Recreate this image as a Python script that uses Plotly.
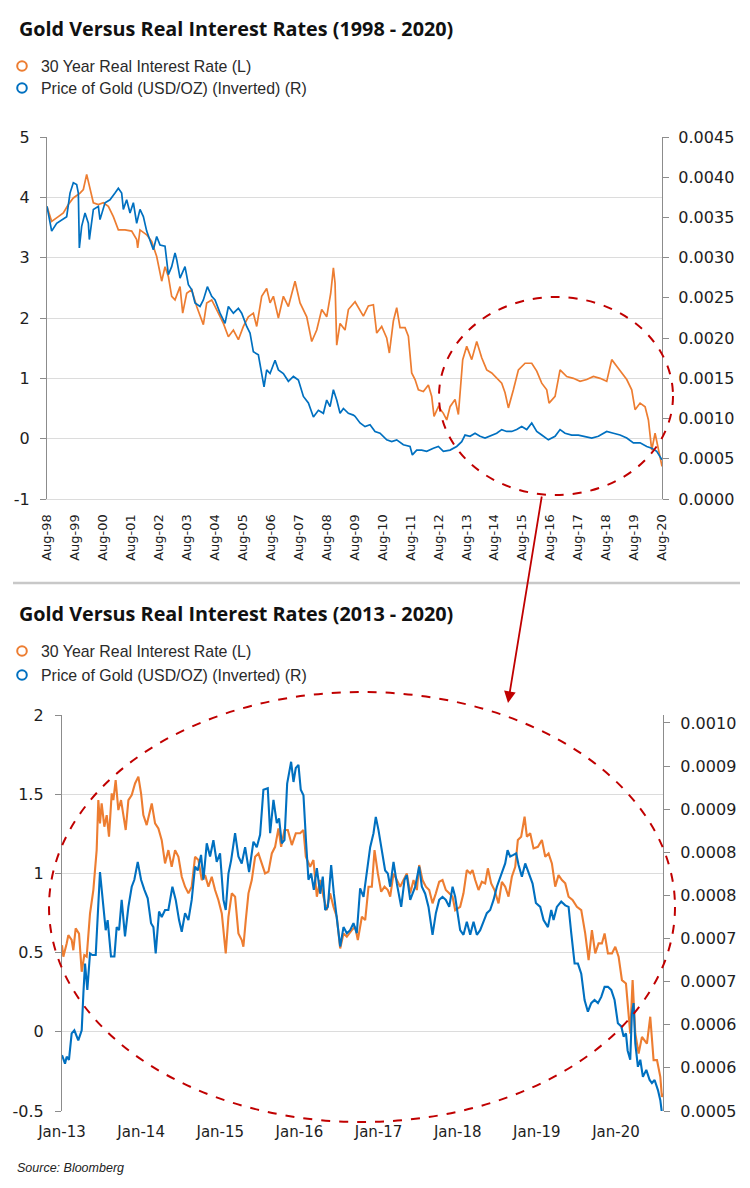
import plotly.graph_objects as go

# ---------------- data: top chart (x = decimal year) ----------------
top_rate_x = [1998.583, 1998.750, 1998.988, 1999.167, 1999.346, 1999.525, 1999.764, 1999.883, 2000.002, 2000.121,
              2000.241, 2000.420, 2000.599, 2000.777, 2000.956, 2001.135, 2001.374, 2001.612, 2001.791, 2001.827,
              2001.910, 2002.149, 2002.328, 2002.507, 2002.686, 2002.805, 2002.924, 2003.043, 2003.163, 2003.342,
              2003.437, 2003.580, 2003.759, 2003.938, 2004.176, 2004.296, 2004.475, 2004.713, 2004.892, 2005.071,
              2005.250, 2005.429, 2005.608, 2005.786, 2005.965, 2006.085, 2006.263, 2006.442, 2006.562, 2006.681,
              2006.860, 2007.039, 2007.218, 2007.456, 2007.635, 2007.874, 2008.053, 2008.232, 2008.410, 2008.589,
              2008.732, 2008.828, 2008.887, 2008.947, 2009.066, 2009.245, 2009.364, 2009.603,
              2009.900, 2010.079, 2010.258, 2010.377, 2010.556, 2010.735, 2010.830, 2010.973, 2011.093, 2011.212,
              2011.391, 2011.510, 2011.629, 2011.749, 2011.868, 2012.047, 2012.226, 2012.345, 2012.428, 2012.583,
              2012.762, 2012.882, 2013.001, 2013.180, 2013.299, 2013.454, 2013.597, 2013.776, 2013.955, 2014.134,
              2014.313, 2014.492, 2014.670, 2014.849, 2014.969, 2015.088, 2015.267, 2015.446, 2015.684, 2015.923,
              2016.102, 2016.281, 2016.459, 2016.543, 2016.758, 2016.936, 2017.175, 2017.413, 2017.652, 2017.890,
              2018.129, 2018.368, 2018.606, 2018.785, 2018.964, 2019.143, 2019.322, 2019.500, 2019.620, 2019.799,
              2019.978, 2020.097, 2020.216, 2020.335, 2020.455, 2020.583]
top_rate_y = [3.85, 3.60, 3.68, 3.74, 3.88, 3.99, 4.07, 4.13, 4.38, 4.13,
              3.91, 3.88, 3.91, 3.85, 3.68, 3.46, 3.46, 3.44, 3.30, 3.16,
              3.46, 3.38, 3.27, 3.02, 2.61, 2.85, 2.69, 2.36, 2.30, 2.52,
              2.08, 2.41, 2.47, 2.19, 1.89, 2.25, 2.30, 2.08, 1.91, 1.69,
              1.80, 1.64, 1.86, 2.02, 2.08, 1.86, 2.36, 2.49, 2.25, 2.36,
              2.00, 2.36, 2.19, 2.61, 2.25, 2.02, 1.61, 1.80, 2.14, 2.02,
              2.41, 2.83, 2.58, 1.55, 1.91, 1.80, 2.14, 2.27,
              2.03, 2.20, 2.22, 1.75, 1.86, 1.67, 1.42, 1.95, 2.17, 1.84,
              1.84, 1.70, 1.09, 0.98, 0.81, 0.78, 0.89, 0.70, 0.37, 0.53,
              0.42, 0.31, 0.53, 0.65, 0.40, 1.31, 1.53, 1.31, 1.61, 1.34,
              1.14, 1.09, 1.00, 0.92, 0.76, 0.51, 0.81, 1.14, 1.25, 1.25,
              1.12, 0.92, 0.81, 0.59, 0.70, 1.14, 1.03, 1.00, 0.95, 0.98,
              1.03, 1.00, 0.95, 1.31, 1.20, 1.09, 0.98, 0.81, 0.48, 0.59,
              0.53, 0.31, -0.19, 0.09, -0.19, -0.46]

top_gold_x = [1998.583, 1998.631, 1998.750, 1998.929, 1999.108, 1999.287, 1999.406, 1999.525, 1999.644, 1999.704,
              1999.740, 1999.823, 1999.943, 2000.062, 2000.098, 2000.241, 2000.420, 2000.479, 2000.658, 2000.837,
              2001.016, 2001.135, 2001.254, 2001.314, 2001.433, 2001.553, 2001.672, 2001.791, 2001.910, 2002.030,
              2002.149, 2002.268, 2002.387, 2002.507, 2002.626, 2002.805, 2002.924, 2003.043, 2003.163, 2003.222,
              2003.342, 2003.520, 2003.640, 2003.759, 2003.878, 2004.057, 2004.176, 2004.320, 2004.475, 2004.594,
              2004.773, 2004.952, 2005.071, 2005.250, 2005.429, 2005.548, 2005.727, 2005.846, 2005.965, 2006.144,
              2006.263, 2006.347, 2006.442, 2006.562, 2006.741, 2006.860, 2007.039, 2007.218, 2007.397, 2007.576,
              2007.755, 2007.934, 2008.113, 2008.291, 2008.470, 2008.589, 2008.709, 2008.828, 2008.947, 2009.066,
              2009.186, 2009.364, 2009.543,
              2009.602, 2009.781, 2009.960, 2010.139, 2010.317, 2010.496, 2010.735, 2010.914, 2011.093, 2011.331,
              2011.570, 2011.653, 2011.808, 2011.987, 2012.166, 2012.405, 2012.583, 2012.762, 2013.001, 2013.239,
              2013.418, 2013.537, 2013.716, 2013.895, 2014.074, 2014.253, 2014.492, 2014.670, 2014.849, 2015.028,
              2015.207, 2015.386, 2015.565, 2015.744, 2015.923, 2016.102, 2016.281, 2016.519, 2016.758, 2016.936,
              2017.115, 2017.354, 2017.592, 2017.831, 2018.069, 2018.308, 2018.606, 2018.845, 2019.083, 2019.322,
              2019.560, 2019.799, 2020.037, 2020.216, 2020.395, 2020.583]
# 1 / gold price (right axis units)
top_gold_inv = [0.003638, 0.003533, 0.003330, 0.003428, 0.003473, 0.003510, 0.003803, 0.003930, 0.003908, 0.003803,
                0.003120, 0.003390, 0.003555, 0.003428, 0.003225, 0.003600, 0.003638, 0.003473, 0.003683, 0.003720,
                0.003803, 0.003863, 0.003803, 0.003600, 0.003720, 0.003555, 0.003683, 0.003428, 0.003600, 0.003510,
                0.003330, 0.003225, 0.003098, 0.003263, 0.003158, 0.003143, 0.002790, 0.002888, 0.003060, 0.002978,
                0.002745, 0.002888, 0.002663, 0.002603, 0.002438, 0.002393, 0.002475, 0.002640, 0.002520, 0.002475,
                0.002310, 0.002183, 0.002393, 0.002310, 0.002370, 0.002310, 0.002145, 0.002063, 0.001830, 0.001793,
                0.001560, 0.001395, 0.001605, 0.001560, 0.001725, 0.001605, 0.001560, 0.001463, 0.001523, 0.001478,
                0.001275, 0.001193, 0.001020, 0.001103, 0.001065, 0.001230, 0.001148, 0.001358, 0.001230, 0.001065,
                0.001125, 0.001065, 0.001043,
                0.001028, 0.000945, 0.000900, 0.000923, 0.000840, 0.000818, 0.000735, 0.000713, 0.000735, 0.000675,
                0.000653, 0.000548, 0.000608, 0.000608, 0.000593, 0.000630, 0.000653, 0.000593, 0.000608, 0.000653,
                0.000713, 0.000795, 0.000780, 0.000818, 0.000780, 0.000758, 0.000795, 0.000818, 0.000863, 0.000840,
                0.000840, 0.000863, 0.000900, 0.000863, 0.000945, 0.000840, 0.000795, 0.000735, 0.000780, 0.000863,
                0.000818, 0.000795, 0.000795, 0.000780, 0.000758, 0.000780, 0.000840, 0.000818, 0.000795, 0.000758,
                0.000698, 0.000698, 0.000653, 0.000630, 0.000593, 0.000488]

top_tick_labels = ["Aug-98", "Aug-99", "Aug-00", "Aug-01", "Aug-02", "Aug-03", "Aug-04", "Aug-05",
                   "Aug-06", "Aug-07", "Aug-08", "Aug-09", "Aug-10", "Aug-11", "Aug-12", "Aug-13",
                   "Aug-14", "Aug-15", "Aug-16", "Aug-17", "Aug-18", "Aug-19", "Aug-20"]
top_tick_vals = [1998.583 + i for i in range(len(top_tick_labels))]
top_left_ticks = [-1, 0, 1, 2, 3, 4, 5]
top_left_labels = ["-1", "0", "1", "2", "3", "4", "5"]
top_right_ticks = [0.0, 0.0005, 0.0010, 0.0015, 0.0020, 0.0025, 0.0030, 0.0035, 0.0040, 0.0045]

# ---------------- data: bottom chart (x = decimal year) ----------------
bot_rate_x = [2013.000, 2013.017, 2013.059, 2013.080, 2013.122, 2013.143, 2013.173, 2013.215, 2013.249, 2013.282,
              2013.312, 2013.354, 2013.396, 2013.438, 2013.459, 2013.480, 2013.501, 2013.535, 2013.565, 2013.594,
              2013.628, 2013.649, 2013.678, 2013.712, 2013.746, 2013.775, 2013.805, 2013.839, 2013.881, 2013.923,
              2013.965, 2013.999, 2014.028, 2014.070, 2014.134, 2014.176, 2014.218, 2014.260, 2014.302, 2014.344,
              2014.386, 2014.429, 2014.471, 2014.513, 2014.555, 2014.597, 2014.639, 2014.681, 2014.724, 2014.766,
              2014.808, 2014.850, 2014.892, 2014.934, 2014.976, 2015.019, 2015.069, 2015.103, 2015.145, 2015.187,
              2015.229, 2015.271, 2015.292, 2015.322, 2015.356, 2015.398, 2015.440, 2015.482, 2015.545,
              2015.566, 2015.609, 2015.651, 2015.693, 2015.735, 2015.769, 2015.811, 2015.853, 2015.904, 2015.954,
              2016.009, 2016.051, 2016.081, 2016.135, 2016.177, 2016.220, 2016.262, 2016.304, 2016.346, 2016.388,
              2016.430, 2016.472, 2016.515, 2016.557, 2016.599, 2016.662, 2016.704, 2016.738, 2016.789, 2016.831,
              2016.873, 2016.915, 2016.949, 2016.991, 2017.033, 2017.075, 2017.117, 2017.147, 2017.189, 2017.231,
              2017.273, 2017.315, 2017.357, 2017.400, 2017.442, 2017.484, 2017.513, 2017.555, 2017.598, 2017.640,
              2017.682, 2017.724, 2017.766, 2017.808, 2017.850, 2017.893, 2017.935,
              2017.968, 2018.031, 2018.073, 2018.115, 2018.158, 2018.187, 2018.221, 2018.263, 2018.305, 2018.347,
              2018.381, 2018.423, 2018.465, 2018.516, 2018.558, 2018.600, 2018.642, 2018.684, 2018.727, 2018.760,
              2018.802, 2018.845, 2018.874, 2018.916, 2018.958, 2019.013, 2019.064, 2019.106, 2019.148, 2019.190,
              2019.232, 2019.274, 2019.317, 2019.359, 2019.401, 2019.451, 2019.506, 2019.561, 2019.611, 2019.654,
              2019.696, 2019.738, 2019.780, 2019.822, 2019.856, 2019.898, 2019.949, 2019.991, 2020.033, 2020.075,
              2020.126, 2020.159, 2020.180, 2020.210, 2020.244, 2020.286, 2020.328, 2020.391, 2020.433, 2020.475,
              2020.518, 2020.560, 2020.580, 2020.594]
bot_rate_y = [0.547, 0.474, 0.558, 0.610, 0.580, 0.515, 0.653, 0.620, 0.379, 0.484,
              0.474, 0.747, 0.895, 1.147, 1.463, 1.316, 1.442, 1.295, 1.368, 1.232,
              1.505, 1.463, 1.589, 1.400, 1.463, 1.379, 1.274, 1.463, 1.495, 1.568,
              1.611, 1.505, 1.368, 1.305, 1.442, 1.316, 1.284, 1.210, 1.063, 1.147,
              1.042, 1.147, 1.105, 0.979, 0.916, 0.874, 0.916, 1.105, 1.084, 0.958,
              0.989, 0.916, 0.979, 0.895, 0.832, 0.747, 0.495, 0.726, 0.874, 0.853,
              0.621, 0.579, 0.537, 0.705, 0.874, 0.958, 1.105, 1.126, 1.021,
              1.000, 1.011, 1.126, 1.168, 1.284, 1.168, 1.274, 1.274, 1.179, 1.253,
              1.253, 1.274, 1.105, 1.042, 1.084, 0.853, 0.958, 0.853, 0.768, 0.874,
              0.789, 0.726, 0.526, 0.621, 0.600, 0.642, 0.663, 0.579, 0.726, 0.705,
              0.916, 0.916, 1.147, 1.000, 0.884, 0.916, 0.895, 0.853, 1.000, 0.958,
              0.916, 0.958, 1.000, 0.874, 0.958, 0.895, 1.053, 0.958, 0.916, 0.895,
              0.811, 0.874, 0.947, 0.958, 0.895, 0.874, 0.853,
              0.768, 0.789, 0.874, 1.021, 1.000, 1.021, 0.958, 0.895, 0.947, 0.937,
              1.032, 0.937, 0.895, 0.811, 0.947, 0.916, 0.853, 0.979, 1.042, 1.211,
              1.232, 1.358, 1.232, 1.253, 1.158, 1.168, 1.211, 1.105, 1.126, 1.063,
              0.916, 0.989, 0.958, 0.937, 0.853, 0.832, 0.789, 0.768, 0.621, 0.453,
              0.642, 0.495, 0.558, 0.558, 0.621, 0.495, 0.495, 0.537, 0.474, 0.326,
              0.305, 0.137, -0.011, 0.326, -0.011, -0.137, -0.032, -0.074, 0.095, -0.179,
              -0.179, -0.284, -0.411, -0.389]

bot_gold_x = [2013.000, 2013.017, 2013.038, 2013.059, 2013.088, 2013.122, 2013.156, 2013.206, 2013.249, 2013.270,
              2013.291, 2013.320, 2013.354, 2013.383, 2013.426, 2013.480, 2013.523, 2013.552, 2013.577, 2013.619,
              2013.662, 2013.691, 2013.721, 2013.754, 2013.796, 2013.839, 2013.881, 2013.914, 2013.957, 2013.999,
              2014.041, 2014.083, 2014.125, 2014.155, 2014.184, 2014.226, 2014.260, 2014.302, 2014.344, 2014.395,
              2014.437, 2014.479, 2014.513, 2014.555, 2014.597, 2014.639, 2014.681, 2014.715, 2014.757, 2014.787,
              2014.829, 2014.871, 2014.913, 2014.955, 2014.997, 2015.040, 2015.069, 2015.103, 2015.137, 2015.187,
              2015.229, 2015.271, 2015.314, 2015.364, 2015.419, 2015.461, 2015.503, 2015.545,
              2015.600, 2015.630, 2015.672, 2015.714, 2015.743, 2015.777, 2015.811, 2015.845, 2015.895, 2015.925,
              2015.954, 2015.988, 2016.017, 2016.051, 2016.085, 2016.114, 2016.148, 2016.182, 2016.220, 2016.262,
              2016.295, 2016.325, 2016.359, 2016.401, 2016.435, 2016.472, 2016.515, 2016.557, 2016.599, 2016.641,
              2016.683, 2016.725, 2016.767, 2016.810, 2016.852, 2016.894, 2016.936, 2016.965, 2016.999, 2017.041,
              2017.083, 2017.117, 2017.147, 2017.189, 2017.231, 2017.286, 2017.328, 2017.357, 2017.400, 2017.463,
              2017.513, 2017.547, 2017.589, 2017.631, 2017.682, 2017.724, 2017.766, 2017.808, 2017.850, 2017.893,
              2017.935, 2017.968, 2018.011,
              2018.031, 2018.073, 2018.115, 2018.158, 2018.200, 2018.242, 2018.284, 2018.326, 2018.368, 2018.410,
              2018.453, 2018.495, 2018.558, 2018.600, 2018.630, 2018.663, 2018.705, 2018.739, 2018.769, 2018.811,
              2018.853, 2018.895, 2018.946, 2018.988, 2019.043, 2019.085, 2019.140, 2019.182, 2019.211, 2019.253,
              2019.308, 2019.359, 2019.401, 2019.435, 2019.477, 2019.519, 2019.561, 2019.603, 2019.645, 2019.687,
              2019.729, 2019.772, 2019.814, 2019.856, 2019.898, 2019.940, 2019.982, 2020.024, 2020.067, 2020.096,
              2020.126, 2020.147, 2020.180, 2020.201, 2020.222, 2020.244, 2020.277, 2020.307, 2020.340, 2020.383,
              2020.425, 2020.454, 2020.488, 2020.530, 2020.560, 2020.581]
# 1 / gold price, in millionths
bot_gold_inv_e6 = [572, 568, 561, 570, 566, 600, 604, 591, 604, 651,
                   690, 656, 703, 701, 701, 808, 763, 733, 746, 699,
                   699, 737, 733, 772, 725, 763, 789, 798, 821, 798,
                   785, 774, 742, 737, 703, 757, 750, 759, 759, 789,
                   772, 746, 731, 755, 746, 772, 815, 810, 830, 798,
                   845, 828, 849, 821, 832, 772, 759, 806, 823, 858,
                   828, 819, 840, 808, 847, 840, 856, 914,
                   916, 858, 901, 871, 877, 845, 849, 922, 950, 924,
                   942, 946, 914, 907, 845, 798, 806, 785, 813, 780,
                   802, 759, 763, 817, 780, 750, 712, 737, 729, 733,
                   742, 729, 787, 776, 806, 840, 858, 879, 862, 836,
                   810, 806, 789, 821, 793, 763, 798, 804, 772, 789,
                   815, 789, 780, 763, 727, 755, 772, 776, 772, 763,
                   789, 776, 746,
                   733, 727, 744, 727, 744, 727, 733, 744, 755, 759,
                   772, 789, 808, 819, 836, 828, 830, 832, 817, 802,
                   819, 806, 793, 768, 763, 746, 737, 759, 746, 763,
                   770, 765, 763, 729, 690, 690, 677, 643, 628, 639,
                   643, 639, 647, 660, 660, 656, 643, 613, 609, 596,
                   600, 578, 566, 626, 639, 587, 557, 566, 544, 553,
                   540, 536, 540, 527, 514, 497]
bot_gold_inv = [v / 1e6 for v in bot_gold_inv_e6]

bot_tick_labels = ["Jan-13", "Jan-14", "Jan-15", "Jan-16", "Jan-17", "Jan-18", "Jan-19", "Jan-20"]
bot_tick_vals = [2013, 2014, 2015, 2016, 2017, 2018, 2019, 2020]
bot_left_ticks = [-0.5, 0, 0.5, 1, 1.5, 2]
bot_left_labels = ["-0.5", "0", "0.5", "1", "1.5", "2"]
bot_right_ticks = [0.0005, 0.000556, 0.000611, 0.000667, 0.000722, 0.000778, 0.000833, 0.000889, 0.000944, 0.0010]
bot_right_labels = ["0.0005", "0.0006", "0.0006", "0.0007", "0.0007", "0.0008", "0.0008", "0.0009", "0.0009", "0.0010"]

series_names = ["30 Year Real Interest Rate (L)", "Price of Gold (USD/OZ) (Inverted) (R)"]
titles = ["Gold Versus Real Interest Rates (1998 - 2020)", "Gold Versus Real Interest Rates (2013 - 2020)"]
source_text = "Source: Bloomberg"

# ---------------- styling ----------------
PAGE_OFF = 8            # the html body margin that offsets the figure inside the window
W, H = 750 - PAGE_OFF, 1188 - PAGE_OFF
ORANGE = "#ED7D31"
BLUE = "#0070C0"
RED = "#C00000"
GRID = "#dcdcdc"
AXIS = "#8c8c8c"
TICK_FONT = dict(family="DejaVu Sans", size=16, color="#1e1e1e")


def fx(p):
    return (p - PAGE_OFF) / W


def fy(p):
    return 1 - (p - PAGE_OFF) / H


fig = go.Figure()
fig.add_trace(go.Scatter(x=top_rate_x, y=top_rate_y, mode="lines", line=dict(color=ORANGE, width=1.7),
                         xaxis="x", yaxis="y", name=series_names[0]))
fig.add_trace(go.Scatter(x=top_gold_x, y=top_gold_inv, mode="lines", line=dict(color=BLUE, width=1.7),
                         xaxis="x", yaxis="y2", name=series_names[1]))
fig.add_trace(go.Scatter(x=bot_rate_x, y=bot_rate_y, mode="lines", line=dict(color=ORANGE, width=2.1),
                         xaxis="x2", yaxis="y3", name=series_names[0]))
fig.add_trace(go.Scatter(x=bot_gold_x, y=bot_gold_inv, mode="lines", line=dict(color=BLUE, width=2.1),
                         xaxis="x2", yaxis="y4", name=series_names[1]))

yax_common = dict(showgrid=True, gridcolor=GRID, gridwidth=1, zeroline=False, showline=True,
                  linecolor=AXIS, linewidth=1.3, ticks="outside", ticklen=6, tickcolor=AXIS,
                  tickfont=TICK_FONT, fixedrange=True, automargin=False)
yr_common = dict(showgrid=False, zeroline=False, showline=True, linecolor=AXIS, linewidth=1.3,
                 ticks="outside", ticklen=6, tickcolor=AXIS, tickfont=TICK_FONT, fixedrange=True,
                 automargin=False)

fig.update_layout(
    template="none",
    width=W, height=H, margin=dict(l=0, r=0, t=0, b=0, autoexpand=False),
    paper_bgcolor="white", plot_bgcolor="white", showlegend=False,
    xaxis=dict(domain=[fx(47), fx(662)], range=[1998.583, 2020.583], anchor="y",
               tickmode="array", tickvals=top_tick_vals, ticktext=top_tick_labels, tickangle=-90,
               tickfont=dict(family="DejaVu Sans", size=13, color="#1e1e1e"),
               showgrid=False, zeroline=False, showline=True, linecolor=GRID, ticks="",
               ticklabelstandoff=9, fixedrange=True, automargin=False),
    yaxis=dict(domain=[fy(499), fy(137)], range=[-1, 5], anchor="x",
               tickmode="array", tickvals=top_left_ticks, ticktext=top_left_labels,
               ticklabelstandoff=7, **yax_common),
    yaxis2=dict(overlaying="y", side="right", anchor="x", range=[0, 0.0045],
                tickmode="array", tickvals=top_right_ticks, tickformat=".4f",
                ticklabelstandoff=6, **yr_common),
    xaxis2=dict(domain=[fx(62), fx(663)], range=[2013, 2020.594], anchor="y3",
                tickmode="array", tickvals=bot_tick_vals, ticktext=bot_tick_labels,
                tickfont=dict(family="DejaVu Sans", size=15, color="#1e1e1e"),
                showgrid=False, zeroline=False, showline=False, ticks="",
                ticklabelstandoff=10, fixedrange=True, automargin=False),
    yaxis3=dict(domain=[fy(1111), fy(715)], range=[-0.5, 2], anchor="x2",
                tickmode="array", tickvals=bot_left_ticks, ticktext=bot_left_labels,
                ticklabelstandoff=8, **yax_common),
    yaxis4=dict(overlaying="y3", side="right", anchor="x2", range=[0.0005, 0.0010103],
                tickmode="array", tickvals=bot_right_ticks, ticktext=bot_right_labels,
                ticklabelstandoff=7, **yr_common),
)

shapes = []
annotations = []

# titles and legends
title_y = [29, 613]
legend_y = [(66, 88), (651, 675)]
for t, ty, (ly1, ly2) in zip(titles, title_y, legend_y):
    annotations.append(dict(xref="paper", yref="paper", x=fx(17), y=fy(ty), xanchor="left", yanchor="middle",
                            text="<b>" + t + "</b>", showarrow=False,
                            font=dict(family="Open Sans", size=19.8, color="#111111")))
    for ly, col, nm in [(ly1, ORANGE, series_names[0]), (ly2, BLUE, series_names[1])]:
        shapes.append(dict(type="circle", xref="paper", yref="paper",
                           x0=fx(22 - 4.8), x1=fx(22 + 4.8), y0=fy(ly + 4.8), y1=fy(ly - 4.8),
                           line=dict(color=col, width=2), fillcolor="rgba(0,0,0,0)"))
        annotations.append(dict(xref="paper", yref="paper", x=fx(39), y=fy(ly), xanchor="left",
                                yanchor="middle", text=nm, showarrow=False,
                                font=dict(family="Liberation Sans", size=15.9, color="#2a2a2a")))

# divider
shapes.append(dict(type="line", xref="paper", yref="paper", x0=fx(13), x1=fx(740), y0=fy(583), y1=fy(583),
                   line=dict(color="#c8c8c8", width=2.5)))

# dashed ellipses
shapes.append(dict(type="circle", xref="paper", yref="paper", x0=fx(439), x1=fx(673), y0=fy(495), y1=fy(297),
                   line=dict(color=RED, width=2, dash="dash")))
shapes.append(dict(type="circle", xref="paper", yref="paper", x0=fx(49), x1=fx(675), y0=fy(1122), y1=fy(692),
                   line=dict(color=RED, width=2, dash="dash")))

# arrow between the two ellipses
annotations.append(dict(xref="paper", yref="paper", x=fx(508), y=fy(703), ax=34, ay=-208,
                        axref="pixel", ayref="pixel", text="", showarrow=True,
                        arrowhead=2, arrowsize=1.3, arrowwidth=1.8, arrowcolor=RED))

# source
annotations.append(dict(xref="paper", yref="paper", x=fx(15), y=fy(1168), xanchor="left", yanchor="middle",
                        text="<i>" + source_text + "</i>", showarrow=False,
                        font=dict(family="Liberation Sans", size=12.5, color="#222222")))

fig.update_layout(shapes=shapes, annotations=annotations)
fig.write_html("out.html")
